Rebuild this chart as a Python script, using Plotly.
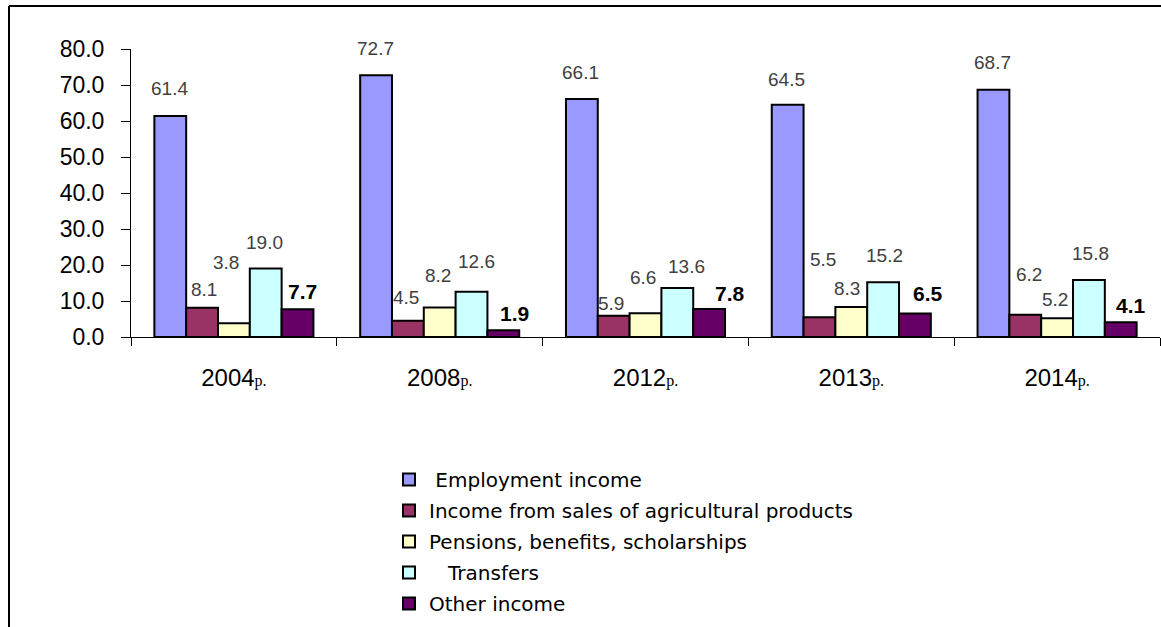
import plotly.graph_objects as go

categories = ["2004", "2008", "2012", "2013", "2014"]
series_names = ["\u00a0Employment income",
                "Income from sales of agricultural products",
                "Pensions, benefits, scholarships",
                "\u00a0\u00a0\u00a0Transfers",
                "Other income"]
employment = [61.4, 72.7, 66.1, 64.5, 68.7]
agricultural = [8.1, 4.5, 5.9, 5.5, 6.2]
pensions = [3.8, 8.2, 6.6, 8.3, 5.2]
transfers = [19.0, 12.6, 13.6, 15.2, 15.8]
other = [7.7, 1.9, 7.8, 6.5, 4.1]
y_ticks = [0, 10, 20, 30, 40, 50, 60, 70, 80]

series = [employment, agricultural, pensions, transfers, other]
colors = ["#9999FF", "#993366", "#FFFFCC", "#CCFFFF", "#660066"]

# style: per-label nudges in pixels (dx from bar centre, height of label centre above bar top)
label_dx = [[-1, -1, -1, -1, -1],
            [2, -2, -3, 4, 4],
            [-8, -2, -3, -4, -2],
            [-1, 5, 9, 1, 2],
            [5, 11, 21, 13, 10]]
label_dy = [[27, 27, 27, 25, 27],
            [18, 23, 12, 58, 40],
            [61, 32, 36, 19, 19],
            [26, 30, 22, 27, 27],
            [18, 17, 15, 20, 17]]

W, H = 1161, 627
x0_px, x1_px = 131, 1160
ytop_px, ybot_px = 49, 337

fig = go.Figure()
for name, vals, col in zip(series_names, series, colors):
    fig.add_trace(go.Bar(
        x=categories, y=vals, name=name, legendgroup=name,
        marker=dict(color=col, line=dict(color="black", width=2)),
        hoverinfo="skip",
    ))

# data labels (x given as category index so numeric-looking names are not misread)
cat_px = (x1_px - x0_px) / len(categories)
bargap = 0.227
bar_px = cat_px * (1 - bargap) / len(series)
for i, vals in enumerate(series):
    bold = (i == len(series) - 1)
    for j, v in enumerate(vals):
        fig.add_annotation(
            x=j, y=v, xref="x", yref="y",
            text=f"<b>{v:.1f}</b>" if bold else f"{v:.1f}",
            showarrow=False,
            xshift=(i - (len(series) - 1) / 2) * bar_px + label_dx[i][j],
            yshift=label_dy[i][j],
            font=dict(family="Liberation Sans, Arial", size=21 if bold else 19,
                      color="black" if bold else "#404040"),
        )

ticktext = [f"{c}<span style=\"font-family:'Liberation Serif', 'Times New Roman'; font-size:16px\">р.</span>"
            for c in categories]

fig.update_layout(
    width=W, height=H,
    margin=dict(l=0, r=0, t=0, b=0, autoexpand=False),
    paper_bgcolor="white", plot_bgcolor="white",
    barmode="group", bargap=bargap, bargroupgap=0,
    font=dict(family="Liberation Sans, Arial", color="black"),
    showlegend=True,
    legend=dict(
        x=389 / W, y=1 - 460 / H, xanchor="left", yanchor="top",
        font=dict(size=20, color="black", family="DejaVu Sans"),
        tracegroupgap=2, bgcolor="rgba(0,0,0,0)",
        itemclick=False, itemdoubleclick=False,
    ),
    xaxis=dict(
        domain=[x0_px / W, x1_px / W],
        type="category",
        categoryorder="array", categoryarray=categories,
        range=[-0.5, len(categories) - 0.5], autorange=False,
        tickvals=categories, ticktext=ticktext,
        tickfont=dict(size=24), tickangle=0,
        ticks="outside", tickson="boundaries", ticklen=8, tickcolor="black",
        showline=True, linecolor="black", linewidth=1,
        showgrid=False, zeroline=False, automargin=False,
        ticklabelstandoff=19,
    ),
    yaxis=dict(
        domain=[1 - ybot_px / H, 1 - ytop_px / H],
        range=[0, 80], autorange=False,
        tickvals=y_ticks, ticktext=[f"{t:.1f}" for t in y_ticks],
        tickfont=dict(size=23),
        ticks="outside", ticklen=9, tickcolor="black",
        showline=True, linecolor="black", linewidth=1,
        showgrid=False, zeroline=False, automargin=False,
        ticklabelstandoff=12,
    ),
    shapes=[
        dict(type="line", xref="paper", yref="paper",
             x0=9 / W, x1=1, y0=1 - 6 / H, y1=1 - 6 / H,
             line=dict(color="black", width=2)),
        dict(type="line", xref="paper", yref="paper",
             x0=9 / W, x1=9 / W, y0=1 - 6 / H, y1=0,
             line=dict(color="black", width=2)),
    ],
)

fig.write_html("out.html",
               config={"displayModeBar": False},
               post_script="document.body.style.margin='0';document.body.style.overflow='hidden';")
